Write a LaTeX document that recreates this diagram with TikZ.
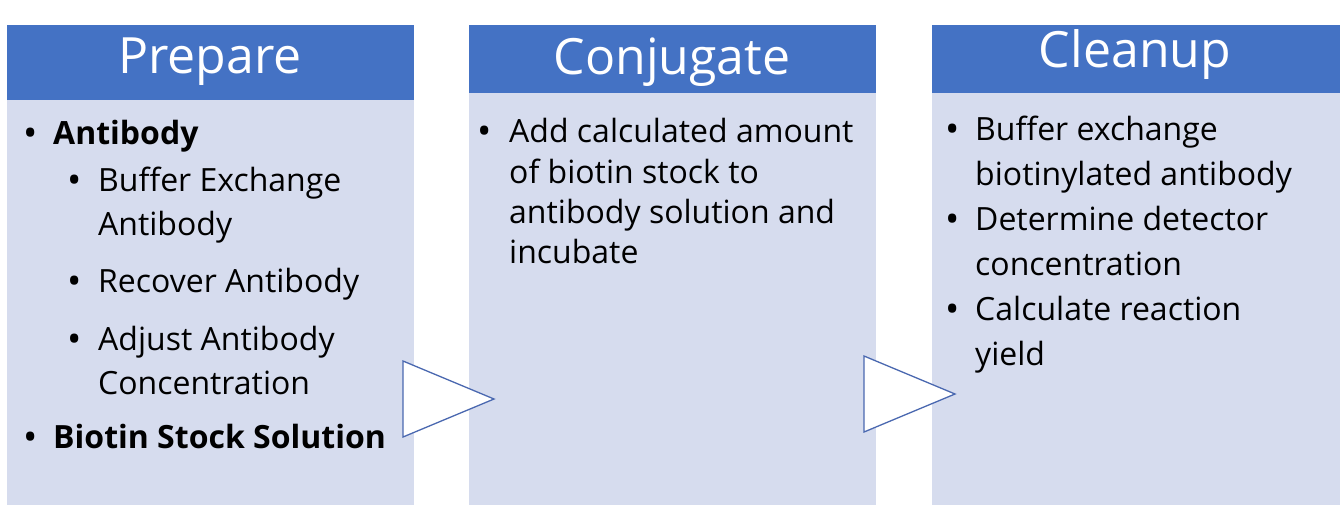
\documentclass[tikz,border=0pt]{standalone}
\usepackage{fontspec}
\setmainfont{Open Sans}
\begin{document}
\begin{tikzpicture}[x=1pt,y=-1pt,
  body/.style={fill=bodyc,draw=none},
  head/.style={fill=headc,draw=none},
  htext/.style={text=white,font=\fontsize{50}{54}\selectfont,inner sep=0},
  line/.style={anchor=base west,inner sep=0,font=\fontsize{32}{36}\selectfont},
  bul/.style={anchor=base,inner sep=0,font=\fontsize{38}{40}\selectfont},
  tri/.style={draw=triline,fill=white,line width=1.3pt,line join=miter}]
\definecolor{headc}{HTML}{4472C4}
\definecolor{bodyc}{HTML}{D6DCEE}
\definecolor{triline}{HTML}{4A68B0}
\useasboundingbox (0,0) rectangle (1340,527);
\fill[white] (0,0) rectangle (1340,527);
% columns
\path[body] (7,25) rectangle (414,505);
\path[head] (7,25) rectangle (414,100);
\path[body] (469,25) rectangle (876,505);
\path[head] (469,25) rectangle (876,93);
\path[body] (932,25) rectangle (1340,505);
\path[head] (932,25) rectangle (1340,93);
\node[htext] (h1) at (210,62) {Prepare};
\node[htext] (h2) at (672,62) {Conjugate};
\node[htext] (h3) at (1135,55) {Cleanup};
% column 1
\node[bul] (b1) at (31,146) {•};
\node[line] (t1) at (53,144) {\textbf{Antibody}};
\node[bul] (b2) at (75,193) {•};
\node[line] (t2) at (98,191) {Buffer Exchange};
\node[line] (t3) at (98,235) {Antibody};
\node[bul] (b4) at (75,294) {•};
\node[line] (t4) at (98,292) {Recover Antibody};
\node[bul] (b5) at (75,352) {•};
\node[line] (t5) at (98,350) {Adjust Antibody};
\node[line] (t6) at (98,394) {Concentration};
\node[bul] (b7) at (31,450) {•};
\node[line] (t7) at (53,448) {\textbf{Biotin Stock Solution}};
% column 2
\node[bul] (c1) at (485,144) {•};
\node[line] (u1) at (509,142) {Add calculated amount};
\node[line] (u2) at (509,183) {of biotin stock to};
\node[line] (u3) at (509,223) {antibody solution and};
\node[line] (u4) at (509,263) {incubate};
% column 3
\node[bul] (d1) at (953,142) {•};
\node[line] (v1) at (975,140) {Buffer exchange};
\node[line] (v2) at (975,185) {biotinylated antibody};
\node[bul] (d3) at (953,232) {•};
\node[line] (v3) at (975,230) {Determine detector};
\node[line] (v4) at (975,275) {concentration};
\node[bul] (d5) at (953,322) {•};
\node[line] (v5) at (975,320) {Calculate reaction};
\node[line] (v6) at (975,365) {yield};
% arrows
\draw[tri] (403,361) -- (494,399) -- (403,437) -- cycle;
\draw[tri] (864,356) -- (955,394) -- (864,432) -- cycle;
\end{tikzpicture}
\end{document}
